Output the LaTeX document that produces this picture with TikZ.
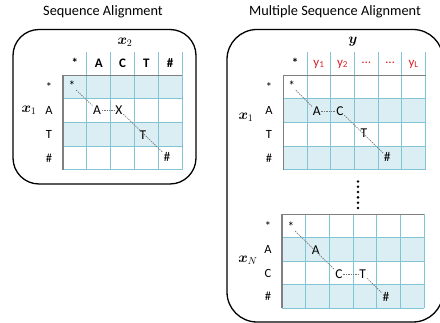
\documentclass[tikz,border=0pt]{standalone}
\usepackage{fontspec}
\usepackage{bm}
\setmainfont{Carlito}
\definecolor{cellfill}{RGB}{218,238,243}
\definecolor{gridblue}{RGB}{128,196,214}
\definecolor{bordergray}{RGB}{128,128,128}
\definecolor{seqred}{RGB}{218,32,40}
\tikzset{
  panel/.style={draw=black, line width=1.3pt, rounded corners=26pt},
  gridline/.style={draw=gridblue, line width=0.8pt},
  gridborder/.style={draw=bordergray, line width=1.5pt},
  title/.style={font=\fontsize{14.3}{16}\selectfont},
  headlab/.style={font=\fontsize{13}{15}\selectfont\bfseries},
  redlab/.style={font=\fontsize{13}{15}\selectfont, text=seqred},
  rowlab/.style={font=\fontsize{12.5}{14}\selectfont},
  cell/.style={font=\fontsize{13.5}{15}\selectfont, inner sep=0.6pt},
  mathlab/.style={font=\fontsize{14}{16}\selectfont},
  path/.style={draw=black!55, line width=0.65pt, dash pattern=on 1.4pt off 1pt},
  vdot/.style={circle, fill=black, inner sep=0pt, minimum size=2.8pt}
}
\begin{document}
\begin{tikzpicture}[x=1pt,y=-1pt]
\useasboundingbox (0,0) rectangle (440,323);
\clip (0,0) rectangle (440,323);

% titles
\node[title] (t1) at (103,12) {Sequence Alignment};
\node[title] (t2) at (335,12) {Multiple Sequence Alignment};

% panels
\draw[panel] (13,29.5) rectangle (196,184);
\draw[panel, rounded corners=30pt] (227,29.5) rectangle (443,322);

% ---------- pairwise grid ----------
\fill[cellfill] (63,75.3) rectangle (182,98.9);
\fill[cellfill] (63,122.5) rectangle (182,146.1);
\foreach \i in {1,...,5} \draw[gridline] ({63+\i*23.8},52) -- ({63+\i*23.8},169.7);
\foreach \r in {1,...,4} \draw[gridline] (63,{75.3+\r*23.6}) -- (182,{75.3+\r*23.6});
\draw[gridborder] (63,169.7) -- (63,75.3) -- (182,75.3);

\node[mathlab] (lx2) at (125,42) {$\bm{x}_2$};
\node[mathlab] (lx1) at (29,110) {$\bm{x}_1$};
\foreach \c [count=\k from 0] in {*,A,C,T,\#}
  \node[headlab] (h\k) at ({74.9+\k*23.8},63) {\c};
\foreach \c [count=\k from 0] in {*,A,T,\#}
  \node[rowlab] (r\k) at (49,{87.1+\k*23.6}) {\c};

\node[cell] (ps) at (72,86) {*};
\node[cell] (pa) at (97,110) {A};
\node[cell] (px) at (119,110) {X};
\node[cell] (pt) at (143,135) {T};
\node[cell] (ph) at (167,156.5) {\#};
\draw[path] (ps) -- (pa);
\draw[path] (pa) -- (px);
\draw[path] (px) -- (ph);

% ---------- multiple alignment, first sequence ----------
\fill[cellfill] (283.3,98.9) rectangle (425.5,122.5);
\fill[cellfill] (283.3,146.1) rectangle (425.5,169.7);
\foreach \i in {1,...,6} \draw[gridline] ({283.3+\i*23.7},52) -- ({283.3+\i*23.7},169.7);
\foreach \r in {1,...,4} \draw[gridline] (283.3,{75.3+\r*23.6}) -- (425.5,{75.3+\r*23.6});
\draw[gridborder] (283.3,169.7) -- (283.3,75.3) -- (425.5,75.3);

\node[mathlab, font=\fontsize{15}{17}\selectfont] (ly) at (353,42) {$\bm{y}$};
\node[mathlab] (mx1) at (246,117) {$\bm{x}_1$};
\node[headlab] (mh0) at (295.2,63) {*};
\node[redlab] (mh1) at (318.9,64) {y\textsubscript{1}};
\node[redlab] (mh2) at (342.6,64) {y\textsubscript{2}};
\node[redlab] (mh3) at (366.3,63) {\ldots};
\node[redlab] (mh4) at (390.0,63) {\ldots};
\node[redlab] (mh5) at (413.7,64) {y\textsubscript{L}};
\foreach \c [count=\k from 0] in {*,A,T,\#}
  \node[rowlab] (mr\k) at (269,{87.1+\k*23.6}) {\c};

\node[cell] (ms) at (291.7,86) {*};
\node[cell] (ma) at (316.7,111) {A};
\node[cell] (mc) at (340,111) {C};
\node[cell] (mt) at (364,133.5) {T};
\node[cell] (mh) at (387.3,157) {\#};
\draw[path] (ms) -- (ma);
\draw[path] (ma) -- (mc);
\draw[path] (mc) -- (mh);

% vertical ellipsis between the sequences
\foreach \j in {0,...,5} \node[vdot] (d\j) at (358,{181.5+\j*5.3}) {};

% ---------- multiple alignment, N-th sequence ----------
\fill[cellfill] (282,237.9) rectangle (424.2,261.3);
\fill[cellfill] (282,284.7) rectangle (424.2,308.1);
\foreach \i in {1,...,6} \draw[gridline] ({282+\i*23.7},214.5) -- ({282+\i*23.7},308.1);
\foreach \r in {1,...,4} \draw[gridline] (282,{214.5+\r*23.4}) -- (424.2,{214.5+\r*23.4});
\draw[gridborder] (282,308.1) -- (282,214.5) -- (424.2,214.5);

\node[mathlab] (mxn) at (248,260) {$\bm{x}_N$};
\foreach \c [count=\k from 0] in {*,A,C,\#}
  \node[rowlab] (nr\k) at (268,{226.2+\k*23.4}) {\c};

\node[cell] (ns) at (291,227) {*};
\node[cell] (na) at (315.7,250) {A};
\node[cell] (nc) at (339,274) {C};
\node[cell] (nt) at (362.7,274) {T};
\node[cell] (nh) at (386,297) {\#};
\draw[path] (ns) -- (nc);
\draw[path] (nc) -- (nt);
\draw[path] (nt) -- (nh);
\end{tikzpicture}
\end{document}
